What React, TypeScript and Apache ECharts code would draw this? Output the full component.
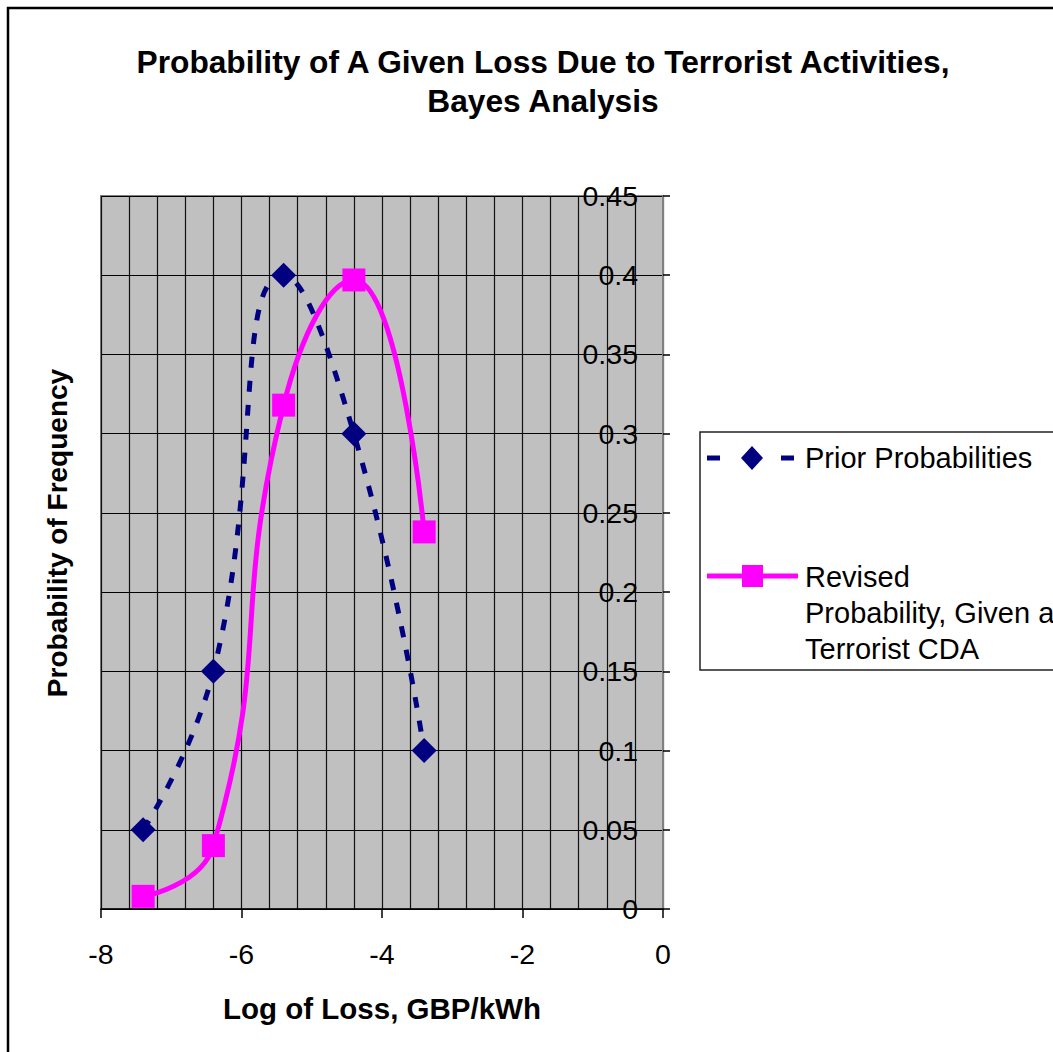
import React, { useEffect, useRef } from "react";
import * as echarts from "echarts";

const xValues = [-7.4, -6.4, -5.4, -4.4, -3.4];
const priorProb = [0.05, 0.15, 0.4, 0.3, 0.1];
const revisedProb = [0.008, 0.04, 0.318, 0.397, 0.238];
const titleText = "Probability of A Given Loss Due to Terrorist Activities,\nBayes Analysis";
const xAxisName = "Log of Loss, GBP/kWh";
const yAxisName = "Probability of Frequency";
const seriesNames = ["Prior Probabilities", "Revised\nProbability, Given a\nTerrorist CDA"];

const FONT = "'Liberation Sans', Arial, sans-serif";

export default function App() {
  const ref = useRef<HTMLDivElement>(null);
  useEffect(() => {
    document.body.style.margin = "0";
    document.body.style.overflow = "hidden";
    const chart = echarts.init(ref.current!, null, { renderer: "svg" });
    const prior = xValues.map((x, i) => [x, priorProb[i]]);
    const revised = xValues.map((x, i) => [x, revisedProb[i]]);
    chart.setOption({
      animation: false,
      backgroundColor: "#ffffff",
      title: {
        text: titleText,
        left: 538,
        top: 37,
        textAlign: "center",
        textStyle: { fontFamily: FONT, fontSize: 31.7, fontWeight: "bold", color: "#000", lineHeight: 39 },
      },
      grid: {
        left: 101,
        top: 196,
        width: 562,
        height: 713,
        show: true,
        backgroundColor: "#C0C0C0",
        borderColor: "#808080",
        borderWidth: 2,
      },
      xAxis: {
        type: "value",
        min: -8,
        max: 0,
        interval: 2,
        name: xAxisName,
        nameLocation: "middle",
        nameGap: 84,
        nameTextStyle: { fontFamily: FONT, fontSize: 29.5, fontWeight: "bold", color: "#000" },
        axisLine: { show: true, onZero: false, lineStyle: { color: "#000", width: 1.5 } },
        axisTick: { show: true, inside: false, length: 9, lineStyle: { color: "#000", width: 1.5 } },
        axisLabel: { fontFamily: FONT, fontSize: 28.5, color: "#000", margin: 30 },
        splitLine: { show: true, lineStyle: { color: "#111", width: 1.2 } },
        minorTick: { show: false, splitNumber: 5 },
        minorSplitLine: { show: true, lineStyle: { color: "#111", width: 1.2 } },
      },
      yAxis: {
        type: "value",
        position: "right",
        min: 0,
        max: 0.45,
        interval: 0.05,
        axisLine: { show: true, lineStyle: { color: "#808080", width: 2 } },
        axisTick: { show: true, inside: false, length: 7, lineStyle: { color: "#000", width: 1.5 } },
        axisLabel: {
          inside: true,
          margin: 25,
          fontFamily: FONT,
          fontSize: 28.5,
          color: "#000",
          formatter: (v: number) => String(parseFloat(v.toFixed(2))),
        },
        splitLine: { show: true, lineStyle: { color: "#000", width: 1.2 } },
      },
      series: [
        {
          name: seriesNames[1],
          type: "line",
          data: revised,
          smooth: 0.5,
          z: 3,
          lineStyle: { color: "#FF00FF", width: 5 },
          itemStyle: { color: "#FF00FF" },
          symbol: "rect",
          symbolSize: 23,
        },
        {
          name: seriesNames[0],
          type: "line",
          data: prior,
          smooth: 0.5,
          z: 4,
          lineStyle: { color: "#000080", width: 5, type: [11, 13] },
          itemStyle: { color: "#000080" },
          symbol: "diamond",
          symbolSize: 25,
        },
      ],
      graphic: [
        {
          type: "rect",
          shape: { x: 8, y: 8, width: 1100, height: 1100 },
          style: { fill: "none", stroke: "#000", lineWidth: 2.5 },
          silent: true,
        },
        {
          type: "text",
          x: 57,
          y: 533,
          rotation: Math.PI / 2,
          style: {
            text: yAxisName,
            fontFamily: FONT,
            fontSize: 28,
            fontWeight: "bold",
            fill: "#000",
            align: "center",
            verticalAlign: "middle",
          },
        },
        {
          type: "rect",
          shape: { x: 700, y: 432, width: 400, height: 238 },
          style: { fill: "#fff", stroke: "#222", lineWidth: 1.5 },
        },
        {
          type: "line",
          shape: { x1: 707, y1: 458, x2: 720, y2: 458 },
          style: { stroke: "#000080", lineWidth: 5 },
        },
        {
          type: "line",
          shape: { x1: 781, y1: 458, x2: 794, y2: 458 },
          style: { stroke: "#000080", lineWidth: 5 },
        },
        {
          type: "polygon",
          shape: { points: [[752, 446], [763, 458], [752, 470], [741, 458]] },
          style: { fill: "#000080" },
        },
        {
          type: "text",
          x: 805,
          y: 458,
          style: {
            text: seriesNames[0],
            fontFamily: FONT,
            fontSize: 29,
            fill: "#000",
            align: "left",
            verticalAlign: "middle",
          },
        },
        {
          type: "line",
          shape: { x1: 707, y1: 576, x2: 798, y2: 576 },
          style: { stroke: "#FF00FF", lineWidth: 5 },
        },
        {
          type: "rect",
          shape: { x: 742, y: 565, width: 21, height: 22 },
          style: { fill: "#FF00FF" },
        },
        {
          type: "text",
          x: 805,
          y: 559,
          style: {
            text: seriesNames[1],
            fontFamily: FONT,
            fontSize: 29,
            lineHeight: 36,
            fill: "#000",
            align: "left",
            verticalAlign: "top",
          },
        },
      ],
    });
    return () => chart.dispose();
  }, []);
  return <div ref={ref} style={{ width: 1053, height: 1052 }} />;
}
